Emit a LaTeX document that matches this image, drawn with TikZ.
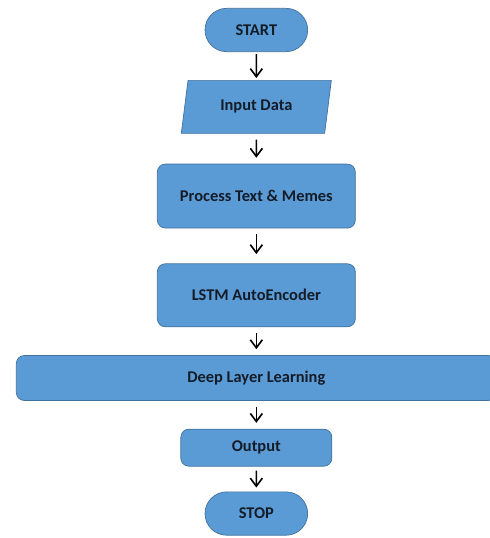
\documentclass[tikz,border=0pt]{standalone}
\usepackage{fontspec}
\setmainfont{Carlito}
\usepackage{tikz}
\usetikzlibrary{arrows.meta,positioning,shapes.geometric,shapes.misc}

\definecolor{boxblue}{HTML}{5B9BD5}
\definecolor{edgeblue}{HTML}{41719C}
\definecolor{labelink}{HTML}{141C28}

\begin{document}
\begin{tikzpicture}[
  node distance=8.4mm,
  font=\fontsize{14}{16}\selectfont\bfseries,
  text=labelink,
  block/.style={draw=edgeblue, fill=boxblue, line width=0.6pt, rounded corners=2.4mm, inner sep=0pt, align=center},
  terminal/.style={draw=edgeblue, fill=boxblue, line width=0.6pt, rounded rectangle, inner sep=0pt, minimum width=3.08cm, minimum height=1.3cm},
  iobox/.style={draw=edgeblue, fill=boxblue, line width=0.6pt, trapezium, trapezium left angle=75, trapezium right angle=105, trapezium stretches=true, inner sep=0pt, minimum width=4.5cm, minimum height=1.59cm},
  arrow/.style={-{Straight Barb[length=2.4mm,width=3.6mm]}, line width=1.4pt, shorten <=1.8mm, shorten >=1.8mm}
]
\useasboundingbox (0,0) rectangle (14.7,-16.14);

\node[terminal] (start) at (7.69,-0.9) {START};
\node[iobox, below=of start] (input) {Input Data};
\node[block, below=9mm of input, minimum width=5.94cm, minimum height=1.92cm] (proc) {Process Text \& Memes};
\node[block, below=10.5mm of proc, minimum width=5.94cm, minimum height=1.89cm] (lstm) {LSTM AutoEncoder};
\node[block, below=of lstm, minimum width=14.4cm, minimum height=1.35cm] (deep) {Deep Layer Learning};
\node[block, below=of deep, minimum width=4.53cm, minimum height=1.11cm] (out) {Output};
\node[terminal, below=7.5mm of out] (stop) {STOP};

\draw[arrow, shorten <=0.6mm, shorten >=0.6mm] (start) -- (input);
\draw[arrow] (input) -- (proc);
\draw[arrow, shorten >=2.8mm] (proc) -- (lstm);
\draw[arrow] (lstm) -- (deep);
\draw[arrow] (deep) -- (out);
\draw[arrow, shorten <=1.2mm, shorten >=1.2mm] (out) -- (stop);

\end{tikzpicture}
\end{document}
